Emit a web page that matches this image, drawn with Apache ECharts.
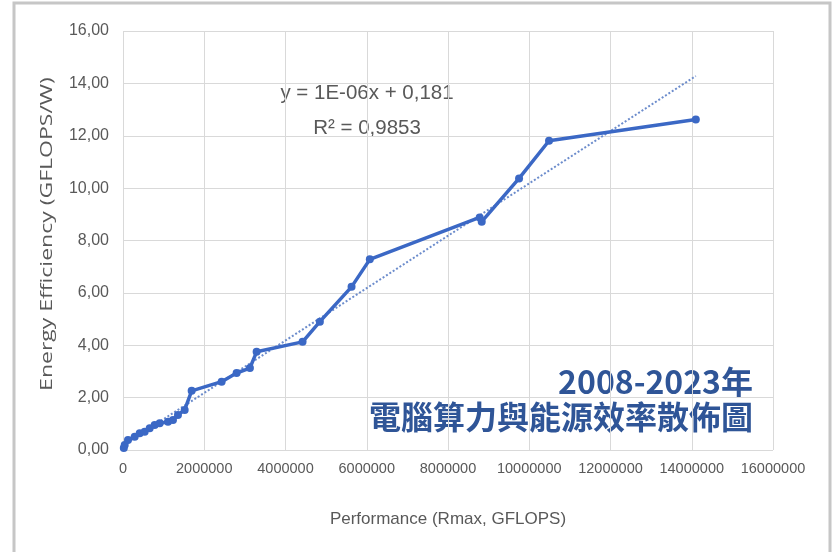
<!DOCTYPE html>
<html>
<head>
<meta charset="utf-8">
<script src="https://cdn.jsdelivr.net/npm/echarts@6/dist/echarts.min.js"></script>
<style>
  html, body { margin: 0; padding: 0; background: #ffffff; }
  #chart { width: 833px; height: 552px; }
</style>
</head>
<body>
<div id="chart"></div>
<script>
// Performance (Rmax, GFLOPS) and energy efficiency (GFLOPS/W), 2008-2023
var performance = [20000, 42000, 123000, 288000, 411000, 534000, 657000, 780000, 903000,
  1107000, 1230000, 1353000, 1518000, 1690000, 2428000, 2797000, 3124000, 3289000,
  4420000, 4846000, 5626000, 6076000, 8780000, 8830000, 9749000, 10487000, 14100000];
var efficiency = [0.08, 0.19, 0.38, 0.51, 0.64, 0.70, 0.83, 0.95, 1.02,
  1.08, 1.15, 1.34, 1.53, 2.26, 2.61, 2.94, 3.13, 3.75,
  4.13, 4.90, 6.23, 7.28, 8.88, 8.72, 10.37, 11.81, 12.62];

// Linear trend line: y = 1E-06x + 0,181
var trendSlope = 1e-6;
var trendIntercept = 0.181;
var trendRange = [20000, 14100000];

var xTicks = [0, 2000000, 4000000, 6000000, 8000000, 10000000, 12000000, 14000000, 16000000];
var yTicks = [0, 2, 4, 6, 8, 10, 12, 14, 16];

var titleLines = ['2008-2023年', '電腦算力與能源效率散佈圖'];
var equationLines = ['y = 1E-06x + 0,181', 'R² = 0,9853'];

var points = performance.map(function (x, i) { return [x, efficiency[i]]; });
var trend = trendRange.map(function (x) { return [x, trendSlope * x + trendIntercept]; });

var sans = '"Liberation Sans", Arial, sans-serif';
var gray = '#595959';

var chart = echarts.init(document.getElementById('chart'), null, { renderer: 'canvas' });
chart.setOption({
  backgroundColor: '#ffffff',
  animation: false,
  grid: { left: 123, right: 60, top: 31, bottom: 102 },
  xAxis: {
    type: 'value',
    min: xTicks[0],
    max: xTicks[xTicks.length - 1],
    interval: xTicks[1] - xTicks[0],
    name: 'Performance (Rmax, GFLOPS)',
    nameLocation: 'middle',
    nameGap: 61,
    nameTextStyle: { color: gray, fontFamily: sans, fontSize: 17 },
    axisLine: { show: false },
    axisTick: { show: false },
    splitLine: { show: true, lineStyle: { color: '#d9d9d9', width: 1 } },
    axisLabel: { color: gray, fontFamily: sans, fontSize: 14.5, margin: 11,
      formatter: function (v) { return String(v); } }
  },
  yAxis: {
    type: 'value',
    min: yTicks[0],
    max: yTicks[yTicks.length - 1],
    interval: yTicks[1] - yTicks[0],
    axisLine: { show: false },
    axisTick: { show: false },
    splitLine: { show: true, lineStyle: { color: '#d9d9d9', width: 1 } },
    axisLabel: { color: gray, fontFamily: sans, fontSize: 16, margin: 14,
      formatter: function (v) { return v.toFixed(2).replace('.', ','); } }
  },
  series: [
    {
      type: 'line',
      data: trend,
      symbol: 'none',
      z: 2,
      lineStyle: { color: '#6c8ccc', width: 2, type: [2, 2] }
    },
    {
      type: 'line',
      data: points,
      symbol: 'circle',
      symbolSize: 8,
      z: 3,
      itemStyle: { color: '#3b68c5' },
      lineStyle: { color: '#3b68c5', width: 3.5 }
    }
  ],
  graphic: [
    {
      type: 'rect',
      shape: { x: 14, y: 3, width: 816, height: 560 },
      style: { fill: 'none', stroke: '#c6c6c6', lineWidth: 3 },
      silent: true
    },
    {
      type: 'text',
      x: 47, y: 234,
      rotation: Math.PI / 2,
      scaleX: 1,
      scaleY: 0.7,
      style: {
        text: 'Energy Efficiency (GFLOPS/W)',
        fill: gray,
        font: '23px "Open Sans", "Noto Sans", sans-serif',
        align: 'center',
        verticalAlign: 'middle'
      }
    },
    {
      type: 'text',
      x: 367, y: 93,
      style: { text: equationLines[0], fill: gray, font: '20.5px ' + sans,
        align: 'center', verticalAlign: 'middle' }
    },
    {
      type: 'text',
      x: 367, y: 128,
      style: { text: equationLines[1], fill: gray, font: '20.5px ' + sans,
        align: 'center', verticalAlign: 'middle' }
    },
    {
      type: 'text',
      x: 753, y: 382,
      style: { text: titleLines[0], fill: '#2f5597',
        font: 'bold 32px "Noto Sans CJK TC", "Noto Sans", sans-serif',
        align: 'right', verticalAlign: 'middle' }
    },
    {
      type: 'text',
      x: 753, y: 417,
      style: { text: titleLines[1], fill: '#2f5597',
        font: 'bold 32px "Noto Sans CJK TC", "Noto Sans", sans-serif',
        align: 'right', verticalAlign: 'middle' }
    }
  ]
});
</script>
</body>
</html>
